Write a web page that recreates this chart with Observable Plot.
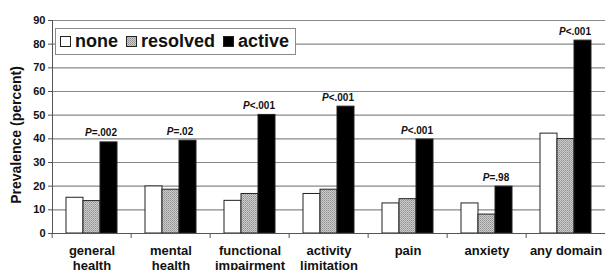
<!DOCTYPE html>
<html><head><meta charset="utf-8">
<script src="https://cdn.jsdelivr.net/npm/d3@7"></script>
<script src="https://cdn.jsdelivr.net/npm/@observablehq/plot@0.6"></script>
<style>
body{margin:0;background:#fff;}
#wrap{position:relative;width:607px;height:270px;font-family:"Liberation Sans",Arial,sans-serif;overflow:hidden;}
#legend{position:absolute;left:55px;top:28px;width:241px;height:27px;box-sizing:border-box;border:1px solid #8a8a8a;background:#fff;display:flex;align-items:center;font-weight:bold;font-size:18px;color:#111;padding-left:4px;}
.item{display:flex;align-items:center;margin-right:8px;}
.item svg{margin-right:4px;}
</style></head>
<body>
<svg width="0" height="0" style="position:absolute"><defs>
<pattern id="dots" width="2" height="2" patternUnits="userSpaceOnUse">
<rect width="2" height="2" fill="#cdcdcd"/>
<rect x="0" y="0" width="1" height="1" fill="#8f8f8f"/>
<rect x="1" y="1" width="1" height="1" fill="#a6a6a6"/>
</pattern></defs></svg>
<div id="wrap"><div id="legend"></div></div>
<script>
const categories = ["general health","mental health","functional impairment","activity limitation","pain","anxiety","any domain"];
const tickLabels = ["general\nhealth","mental\nhealth","functional\nimpairment","activity\nlimitation","pain","anxiety","any domain"];
const series = ["none","resolved","active"];
const noneValues = [15.1, 19.9, 13.8, 16.7, 12.7, 12.7, 42.2];
const resolvedValues = [13.7, 18.5, 16.7, 18.5, 14.5, 8.0, 39.9];
const activeValues = [38.5, 39.2, 50.1, 53.6, 39.7, 19.8, 81.5];
const pValues = ["P=.002","P=.02","P<.001","P<.001","P<.001","P=.98","P<.001"];
const yTicks = [0,10,20,30,40,50,60,70,80,90];
const yLabel = "Prevalence (percent)";
const seriesFill = ["white","url(#dots)","black"];

const valuesBySeries = [noneValues, resolvedValues, activeValues];
const data = categories.flatMap((c,i) => series.map((s,j) => ({category:c, series:s, value:valuesBySeries[j][i], p:pValues[i]})));
const activeRows = data.filter(d => d.series === "active");

const W=607, H=270, ML=49, MR=0, MT=20, MB=37;
const step = (W-ML-MR)/categories.length;

const chart = Plot.plot({
  width: W, height: H, marginLeft: ML, marginRight: MR, marginTop: MT, marginBottom: MB,
  style: {fontFamily: "Liberation Sans, Arial, sans-serif", color: "#111", background: "white", overflow: "visible"},
  fx: {domain: categories, padding: 0, label: null},
  x: {domain: series, paddingInner: 0, paddingOuter: 0.72, axis: null},
  y: {domain: [0,90], axis: null},
  color: {domain: series, range: seriesFill},
  marks: [
    Plot.gridY(yTicks, {stroke:"#888", strokeOpacity:1, strokeWidth:1.2}),
    Plot.barY(data, {fx:"category", x:"series", y:"value", fill:"series", stroke:"#222", strokeWidth:1}),
    Plot.ruleY([0], {stroke:"#555"}),
    Plot.axisY({ticks: yTicks, tickSize:4, tickPadding:3, fontSize:11, fontWeight:"bold", label:null, stroke:"#555"}),
    Plot.text([yLabel], {text: d => d, frameAnchor:"left", textAnchor:"middle", rotate:-90, dx:-36, dy:8, fontSize:14, fontWeight:"bold", facetAnchor:"left"}),
    Plot.axisFx({anchor:"bottom", tickSize:0, tickPadding:10, fontSize:13, fontWeight:"bold", tickFormat: c => tickLabels[categories.indexOf(c)], label:null, lineHeight:1.2}),
    Plot.axisFx({anchor:"bottom", tickSize:5, tickFormat: () => "", dx: -step/2, label:null, stroke:"#555"}),
    Plot.text(activeRows, {fx:"category", x:"series", y:"value", text:"p", dx:-8, dy:-6, lineAnchor:"bottom", fontSize:10, fontWeight:"bold"}),
    Plot.frame({anchor:"left", facetAnchor:"left", stroke:"#555"})
  ]
});

d3.select(chart).selectAll("text").each(function(){
  const t = this.textContent;
  if (/^P[=<]/.test(t) && this.children.length === 0) {
    this.textContent = "";
    const s = d3.select(this);
    s.append("tspan").attr("font-style","italic").text("P");
    s.append("tspan").text(t.slice(1));
  }
});

const wrap = document.getElementById("wrap");
wrap.insertBefore(chart, wrap.firstChild);

const legend = d3.select("#legend");
series.forEach((s,j) => {
  const item = legend.append("div").attr("class","item");
  const sw = item.append("svg").attr("width",11).attr("height",11);
  sw.append("rect").attr("x",0.5).attr("y",0.5).attr("width",10).attr("height",10).attr("fill",seriesFill[j]).attr("stroke","#222");
  item.append("span").text(s);
});
</script>
</body></html>
